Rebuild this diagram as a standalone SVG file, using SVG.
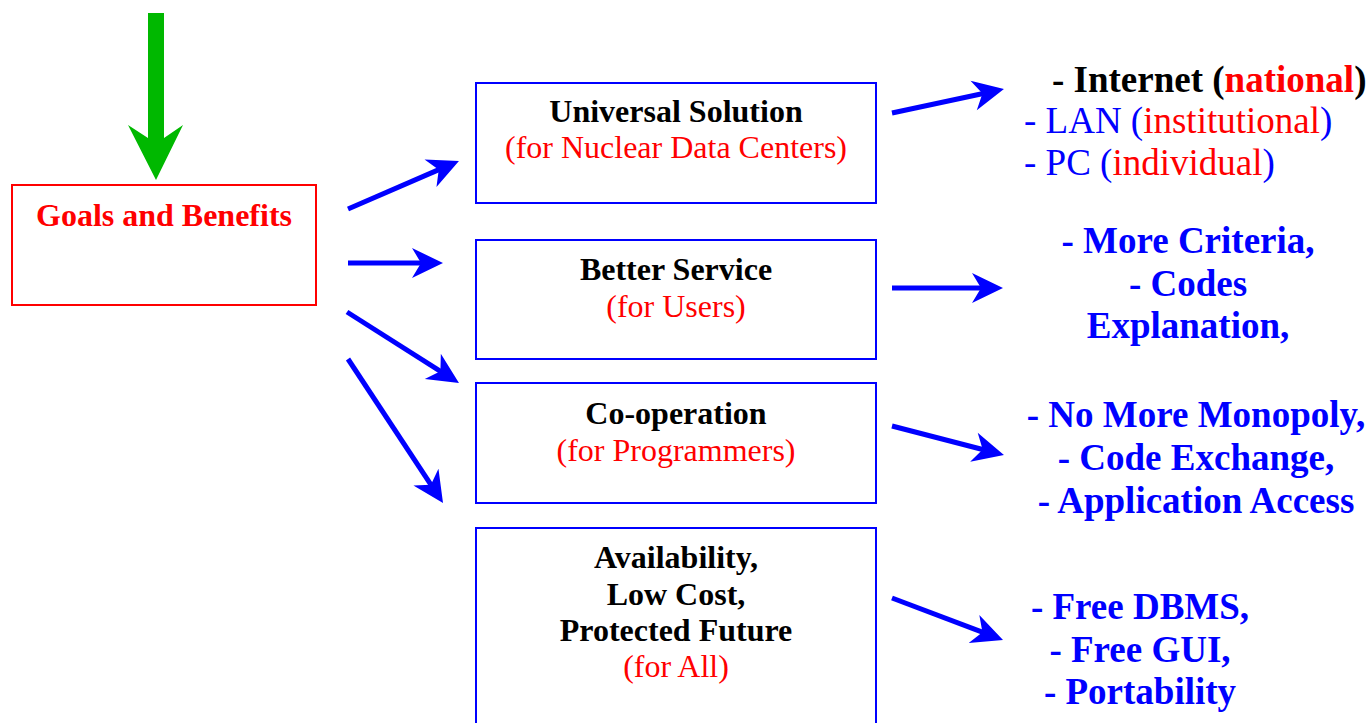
<svg xmlns="http://www.w3.org/2000/svg" width="1371" height="723" viewBox="0 0 1371 723">
<style>
text{font-family:"Liberation Serif","Times New Roman",serif}
.box{fill:#fff;stroke:#0000ff;stroke-width:2}
.t{font-size:32px;font-weight:bold;fill:#000;text-anchor:middle}
.s{font-size:32px;fill:#ff0000;text-anchor:middle}
.r{font-size:37px;font-weight:bold;fill:#0000ff;text-anchor:middle}
.rl{font-size:37px;fill:#0000ff}
.red{fill:#ff0000}
.conn{stroke:#0000ff;stroke-width:5;fill:none;marker-end:url(#ah)}
</style>
<defs>
<marker id="ah" markerUnits="userSpaceOnUse" viewBox="-52 -17 54 34" markerWidth="54" markerHeight="34" refX="-20" refY="0" orient="auto">
<path d="M0,0 L-31,-15 L-22,0 L-31,15 Z" fill="#0000ff"/>
</marker>
</defs>
<rect width="1371" height="723" fill="#fff"/>
<g id="start-arrow">
<polygon points="148,13 164,13 164,138 183,125 156,180 128,125 148,138" fill="#00b800"/>
</g>
<g id="goals">
<rect x="12" y="185" width="304" height="120" fill="#fff" stroke="#ff0000" stroke-width="2"/>
<text x="164" y="226" class="t" fill="#ff0000" style="fill:#ff0000">Goals and Benefits</text>
</g>
<g id="universal">
<rect class="box" x="476" y="83" width="400" height="120"/>
<text x="676" y="122" class="t">Universal Solution</text>
<text x="676" y="158" class="s">(for Nuclear Data Centers)</text>
</g>
<g id="service">
<rect class="box" x="476" y="240" width="400" height="119"/>
<text x="676" y="280" class="t">Better Service</text>
<text x="676" y="317" class="s">(for Users)</text>
</g>
<g id="cooperation">
<rect class="box" x="476" y="383" width="400" height="120"/>
<text x="676" y="424" class="t">Co-operation</text>
<text x="676" y="461" class="s">(for Programmers)</text>
</g>
<g id="availability">
<rect class="box" x="476" y="528" width="400" height="210"/>
<text x="676" y="568" class="t">Availability,</text>
<text x="676" y="605" class="t">Low Cost,</text>
<text x="676" y="641" class="t">Protected Future</text>
<text x="676" y="677" class="s">(for All)</text>
</g>
<g id="levels">
<text x="1052" y="92" style="font-size:37px;font-weight:bold;fill:#000">- Internet (<tspan class="red">national</tspan>)</text>
<text x="1024" y="133" class="rl">- LAN (<tspan class="red">institutional</tspan>)</text>
<text x="1024" y="175" class="rl">- PC (<tspan class="red">individual</tspan>)</text>
</g>
<g id="criteria">
<text x="1188" y="253" class="r">- More Criteria,</text>
<text x="1188" y="296" class="r">- Codes</text>
<text x="1188" y="338" class="r">Explanation,</text>
</g>
<g id="exchange">
<text x="1196" y="427" class="r">- No More Monopoly,</text>
<text x="1196" y="470" class="r">- Code Exchange,</text>
<text x="1196" y="513" class="r">- Application Access</text>
</g>
<g id="free">
<text x="1140" y="619" class="r">- Free DBMS,</text>
<text x="1140" y="662" class="r">- Free GUI,</text>
<text x="1140" y="704" class="r">- Portability</text>
</g>
<g id="connectors">
<line class="conn" x1="348" y1="209" x2="440.6" y2="168.9"/>
<line class="conn" x1="348" y1="263" x2="423" y2="263"/>
<line class="conn" x1="347" y1="312" x2="442.1" y2="372.3"/>
<line class="conn" x1="348" y1="359" x2="432" y2="486.3"/>
<line class="conn" x1="892" y1="113" x2="984.4" y2="93.2"/>
<line class="conn" x1="892" y1="288" x2="983" y2="288"/>
<line class="conn" x1="892" y1="426" x2="984.6" y2="450"/>
<line class="conn" x1="892" y1="598" x2="984.3" y2="632.9"/>
</g>
</svg>
